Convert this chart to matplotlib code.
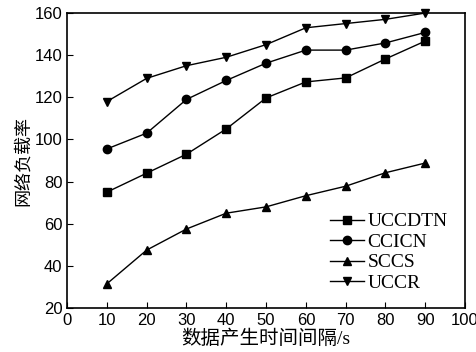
import matplotlib
matplotlib.use('Agg')
import matplotlib.pyplot as plt

x = [10, 20, 30, 40, 50, 60, 70, 80, 90]
uccdtn = [75, 84, 93, 105, 119.7, 127.3, 129.2, 138.2, 146.7]
ccicn = [95.5, 103, 119, 128, 136.2, 142.4, 142.4, 145.8, 150.8]
sccs = [31.5, 47.5, 57.5, 65, 68, 73.3, 77.8, 84.2, 88.8]
uccr = [118, 129, 135, 139, 145, 153, 155, 157, 160]

names = ['UCCDTN', 'CCICN', 'SCCS', 'UCCR']
markers = ['s', 'o', '^', 'v']

fig = plt.figure(figsize=(4.76, 3.52), dpi=100)
ax = fig.add_axes([0.141, 0.125, 0.836, 0.838])

for ys, name, m in zip([uccdtn, ccicn, sccs, uccr], names, markers):
    ax.plot(x, ys, color='black', lw=1, marker=m, ms=6, label=name, clip_on=False)

ax.set_xlim(0, 100)
ax.set_ylim(20, 160)
ax.set_xticks(range(0, 101, 10))
ax.set_yticks(range(20, 161, 20))
ax.tick_params(direction='in', length=4, labelsize=12, top=False, right=False)
for lab in ax.get_xticklabels() + ax.get_yticklabels():
    lab.set_family('Liberation Sans')
for s in ax.spines.values():
    s.set_linewidth(1.2)

cjk = ['Liberation Serif', 'Noto Sans CJK SC']
ax.set_xlabel('数据产生时间间隔/s', fontsize=14, family=cjk, labelpad=1)
ax.set_ylabel('网络负载率', fontsize=13, family=cjk, labelpad=2)

ax.legend(loc='lower right', frameon=False, prop={'family': 'Liberation Serif', 'size': 14},
          handlelength=1.7, handletextpad=0.2, labelspacing=0.15, bbox_to_anchor=(1.0, -0.005))

fig.savefig('out.png', dpi=100)
